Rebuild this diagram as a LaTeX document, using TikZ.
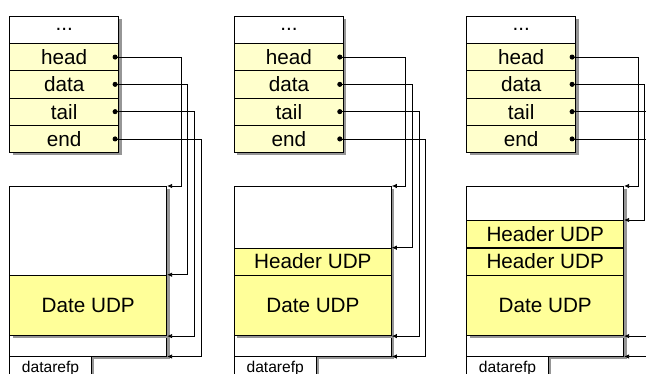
\documentclass[tikz,border=0pt]{standalone}
\usepackage{fontspec}
\setmainfont{Liberation Sans}
\usetikzlibrary{arrows.meta,shadows}

\definecolor{fieldyellow}{RGB}{255,255,204}
\definecolor{udpyellow}{RGB}{255,255,153}
\definecolor{shadowgray}{RGB}{150,150,150}

\begin{document}
\begin{tikzpicture}[x=1pt,y=-1pt,
  boxshadow/.style={drop shadow={shadow xshift=2.8pt,shadow yshift=-2.8pt,fill=shadowgray,opacity=1}},
  cell/.style={draw,line width=0.8pt,boxshadow,inner sep=0pt,anchor=north west,minimum width=109pt},
  blank/.style={cell,fill=white,minimum height=27.3pt,font=\fontsize{20.7}{24}\selectfont},
  field/.style={cell,fill=fieldyellow,minimum height=27.3pt,font=\fontsize{20.7}{24}\selectfont},
  buffer/.style={cell,fill=white,minimum width=157pt,minimum height=169.7pt},
  header/.style={cell,fill=udpyellow,minimum width=157pt,minimum height=27pt,font=\fontsize{20.7}{24}\selectfont},
  payload/.style={cell,fill=udpyellow,minimum width=157pt,minimum height=60.6pt,font=\fontsize{20.7}{24}\selectfont},
  refbox/.style={cell,fill=white,minimum width=81.7pt,minimum height=27pt,font=\fontsize{15.6}{18}\selectfont},
  ptr/.style={line width=0.8pt,{Circle[length=5pt]}-{Latex[length=5pt,width=4.5pt]}}
]
\useasboundingbox (0,0) rectangle (646,374);
\clip (0,0) rectangle (646,374);

% panel 1: empty buffer
\begin{scope}[xshift=9.3pt,name prefix=a-]
\node[blank] (dots) at (0,15.7) {...};
\node[field] (head) at (0,43) {head};
\node[field] (data) at (0,70.3) {data};
\node[field] (tail) at (0,97.6) {tail};
\node[field] (end) at (0,124.9) {end};

\node[buffer] (buf) at (0,186) {};
\node[payload] (date) at (0,274.7) {Date UDP};
\node[refbox,text depth=5pt] (ref) at (0,355.7) {datarefp};

\draw[ptr] ([xshift=-6.5pt]head.east) -- ++(68.5,0) |- (buf.north east);
\draw[ptr] ([xshift=-6.5pt]data.east) -- ++(75.2,0) |- (date.north east);
\draw[ptr] ([xshift=-6.5pt]tail.east) -- ++(81.8,0) |- (date.south east);
\draw[ptr] ([xshift=-6.5pt]end.east) -- ++(88.5,0) |- (buf.south east);
\end{scope}

% panel 2: one header
\begin{scope}[xshift=234pt,name prefix=b-]
\node[blank] (dots) at (0,15.7) {...};
\node[field] (head) at (0,43) {head};
\node[field] (data) at (0,70.3) {data};
\node[field] (tail) at (0,97.6) {tail};
\node[field] (end) at (0,124.9) {end};

\node[buffer] (buf) at (0,186) {};
\node[header] (hdr) at (0,247.7) {Header UDP};
\node[payload] (date) at (0,274.7) {Date UDP};
\node[refbox,text depth=5pt] (ref) at (0,355.7) {datarefp};

\draw[ptr] ([xshift=-6.5pt]head.east) -- ++(68.5,0) |- (buf.north east);
\draw[ptr] ([xshift=-6.5pt]data.east) -- ++(75.2,0) |- (hdr.north east);
\draw[ptr] ([xshift=-6.5pt]tail.east) -- ++(81.8,0) |- (date.south east);
\draw[ptr] ([xshift=-6.5pt]end.east) -- ++(88.5,0) |- (buf.south east);
\end{scope}

% panel 3: two headers
\begin{scope}[xshift=466.3pt,name prefix=c-]
\node[blank] (dots) at (0,15.7) {...};
\node[field] (head) at (0,43) {head};
\node[field] (data) at (0,70.3) {data};
\node[field] (tail) at (0,97.6) {tail};
\node[field] (end) at (0,124.9) {end};

\node[buffer] (buf) at (0,186) {};
\node[header] (hdr2) at (0,220) {Header UDP};
\node[header] (hdr) at (0,247.7) {Header UDP};
\node[payload] (date) at (0,274.7) {Date UDP};
\node[refbox,text depth=5pt] (ref) at (0,355.7) {datarefp};

\draw[ptr] ([xshift=-6.5pt]head.east) -- ++(68.5,0) |- (buf.north east);
\draw[ptr] ([xshift=-6.5pt]data.east) -- ++(75.2,0) |- (hdr2.north east);
\draw[ptr] ([xshift=-6.5pt]tail.east) -- ++(81.8,0) |- (date.south east);
\draw[ptr] ([xshift=-6.5pt]end.east) -- ++(88.5,0) |- (buf.south east);
\end{scope}
\end{tikzpicture}
\end{document}
